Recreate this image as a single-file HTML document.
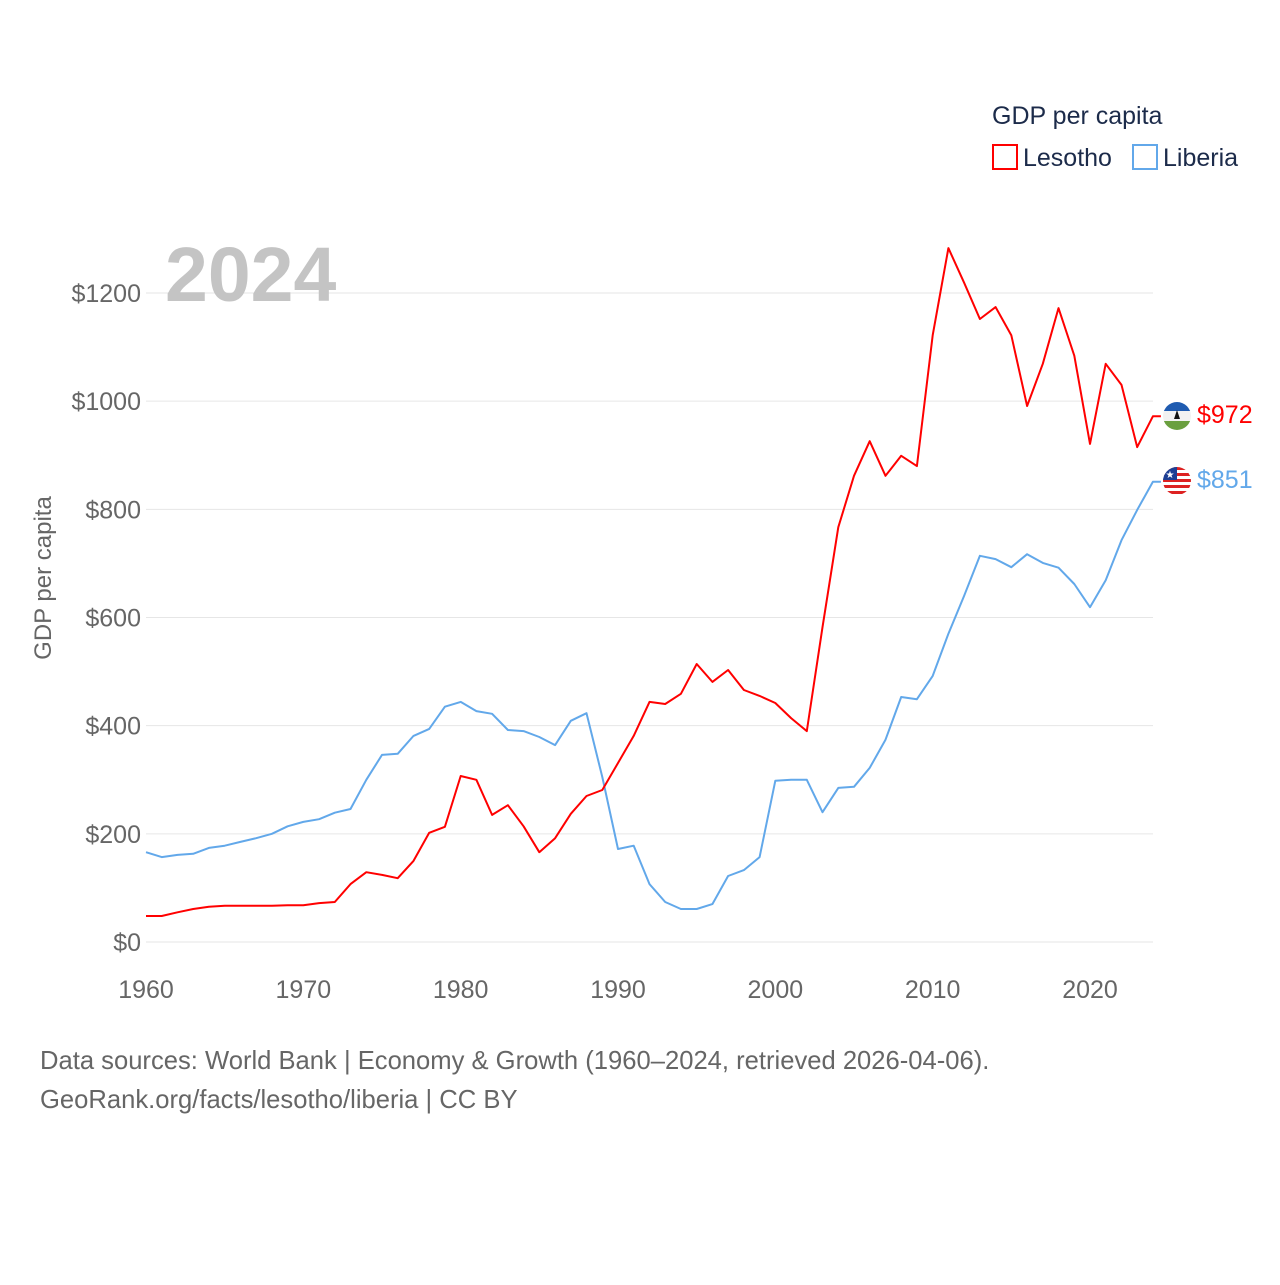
<!DOCTYPE html>
<html><head><meta charset="utf-8"><style>
html,body{margin:0;padding:0;background:#fff;}
svg text{font-family:"Liberation Sans",sans-serif;}
</style></head><body>
<svg id="chart" width="1280" height="1280" viewBox="0 0 1280 1280" xmlns="http://www.w3.org/2000/svg">
<g id="grid"></g>
<g id="yticks"></g>
<g id="xticks"></g>
<text x="51" y="578" transform="rotate(-90 51 578)" text-anchor="middle" font-size="24" fill="#666">GDP per capita</text>
<text x="165" y="301" font-size="77" font-weight="bold" fill="#c4c4c4">2024</text>
<g id="series"></g>
<g>
<text x="992" y="124" font-size="25" fill="#1c2b4a">GDP per capita</text>
<rect x="993" y="145" width="24" height="24" fill="none" stroke="#ff0000" stroke-width="2"/>
<text x="1023" y="166" font-size="25" fill="#1c2b4a">Lesotho</text>
<rect x="1133" y="145" width="24" height="24" fill="none" stroke="#62a8ea" stroke-width="2"/>
<text x="1163" y="166" font-size="25" fill="#1c2b4a">Liberia</text>
</g>
<defs>
<clipPath id="c1"><circle cx="1177" cy="416" r="14"/></clipPath>
<clipPath id="c2"><circle cx="1177" cy="481" r="14"/></clipPath>
</defs>
<g clip-path="url(#c1)">
<rect x="1163" y="402" width="28" height="9" fill="#1f5bb0"/>
<rect x="1163" y="411" width="28" height="10" fill="#f2f2f2"/>
<rect x="1163" y="421" width="28" height="9" fill="#6a9f3f"/>
<path d="M1174 419 L1177 410 L1180 419 Z" fill="#111"/>
</g>
<g clip-path="url(#c2)">
<rect x="1163" y="467" width="28" height="28" fill="#fff"/>
<rect x="1163" y="467" width="28" height="3" fill="#d22"/>
<rect x="1163" y="473" width="28" height="3" fill="#d22"/>
<rect x="1163" y="479" width="28" height="3" fill="#d22"/>
<rect x="1163" y="485" width="28" height="3" fill="#d22"/>
<rect x="1163" y="491" width="28" height="3" fill="#d22"/>
<rect x="1163" y="467" width="14" height="13" fill="#1c3f94"/>
<text x="1170" y="478" font-size="10" fill="#fff" text-anchor="middle">★</text>
</g>
<text x="1197" y="423" font-size="25" fill="#ff0000">$972</text>
<text x="1197" y="488" font-size="25" fill="#62a8ea">$851</text>
<text x="40" y="1069" font-size="25.6" fill="#666">Data sources: World Bank | Economy &amp; Growth (1960–2024, retrieved 2026-04-06).</text>
<text x="40" y="1108" font-size="25.6" fill="#666">GeoRank.org/facts/lesotho/liberia | CC BY</text>
</svg>
<script>
const years = [];
for (let y = 1960; y <= 2024; y++) years.push(y);
const lesotho = [48,48,55,61,65,67,67,67,67,68,68,72,74,107,129,124,118,150,202,213,307,300,235,253,214,166,192,237,270,281,331,381,444,440,459,514,481,503,466,455,442,414,390,582,767,862,926,862,899,880,1122,1283,1219,1152,1174,1122,991,1069,1172,1084,921,1069,1030,915,972];
const liberia = [166,157,161,163,174,178,185,192,200,214,222,227,239,246,300,346,348,381,394,435,444,427,422,392,390,379,364,409,423,305,172,178,107,74,61,61,70,122,133,157,298,300,300,240,285,287,322,374,453,449,492,570,640,714,708,693,717,701,692,662,619,669,743,799,851];
const yTicks = [0,200,400,600,800,1000,1200];
const xTicks = [1960,1970,1980,1990,2000,2010,2020];

const NS = "http://www.w3.org/2000/svg";
const xS = y => 146 + (y - 1960) * (1090 - 146) / 60;
const yS = v => 942 - v * (942 - 293) / 1200;

function mk(tag, attrs, parent) {
  const e = document.createElementNS(NS, tag);
  for (const k in attrs) e.setAttribute(k, attrs[k]);
  parent.appendChild(e);
  return e;
}
const grid = document.getElementById('grid');
const yt = document.getElementById('yticks');
const xt = document.getElementById('xticks');
yTicks.forEach(v => {
  const l = mk('line', {x1:146, x2:1153, y1:yS(v), y2:yS(v), stroke:'#e6e6e6', 'stroke-width':1}, grid);
  
  
  const t = mk('text', {x:141, y:yS(v)+9, 'text-anchor':'end', 'font-size':25, fill:'#666'}, yt);
  t.textContent = '$' + v;
  
  
});
xTicks.forEach(y => {
  const t = mk('text', {x:xS(y), y:998, 'text-anchor':'middle', 'font-size':25, fill:'#666'}, xt);
  t.textContent = y;
  
  
});
const series = document.getElementById('series');
function drawLine(vals, color, name) {
  let d = vals.map((v, i) => (i ? 'L' : 'M') + xS(years[i]).toFixed(1) + ' ' + yS(v).toFixed(1)).join(' ');
  d += ' L' + (xS(years[years.length-1]) + 8).toFixed(1) + ' ' + yS(vals[vals.length-1]).toFixed(1);
  const p = mk('path', {d:d, fill:'none', stroke:color, 'stroke-width':2, 'stroke-linejoin':'round'}, series);
  
  
}
drawLine(liberia, '#62a8ea', 'line-liberia');
drawLine(lesotho, '#ff0000', 'line-lesotho');
</script>
</body></html>
